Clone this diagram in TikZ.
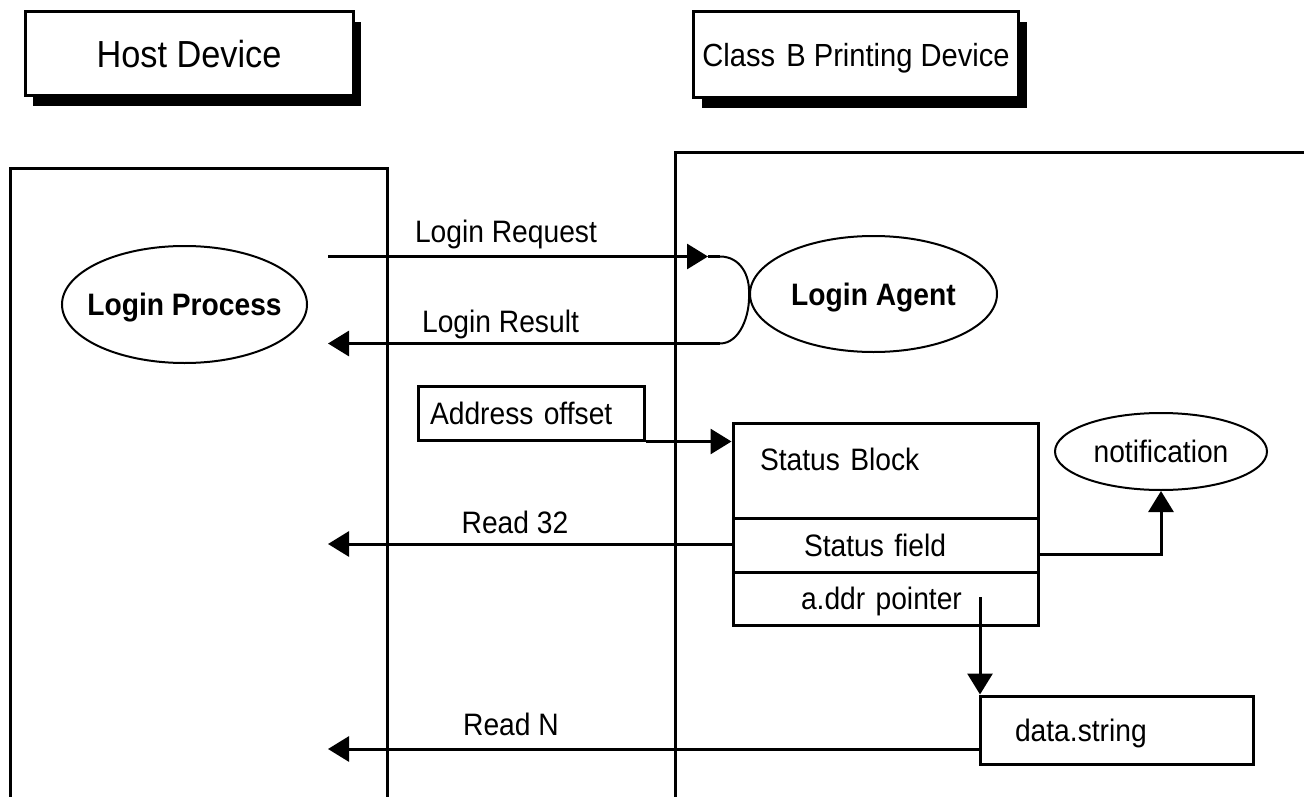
\documentclass[tikz,border=0pt]{standalone}
\usepackage{fontspec}
\setmainfont{Liberation Sans}[FakeStretch=0.91]
\usetikzlibrary{arrows.meta,shadows,calc,shapes.geometric}
\begin{document}
\begin{tikzpicture}[x=1pt,y=-1pt,
  thickline/.style={line width=3pt},
  arr/.style={line width=3pt,-{Triangle[length=21pt,width=25pt]}},
  lbl/.style={font=\fontsize{31}{36}\selectfont, inner sep=0pt, anchor=base},
  titlebox/.style={draw, line width=3pt, fill=white,
     drop shadow={shadow xshift=8pt,shadow yshift=-10pt,fill=black,opacity=1},
     inner sep=0pt, text depth=0pt},
  blk/.style={draw, line width=3pt, inner sep=0pt, font=\fontsize{31}{36}\selectfont,
     text height=22pt, text depth=0pt, align=left},
  oval/.style={draw, ellipse, line width=2pt, inner sep=0pt,
     font=\bfseries\fontsize{31}{36}\selectfont, text height=22pt, text depth=0pt},
]
\useasboundingbox (0,0) rectangle (1304,797);

% columns
\coordinate (hcBL) at (10.5,800);
\coordinate (hcTL) at (10.5,169);
\coordinate (hcTR) at (387.5,169);
\coordinate (hcBR) at (387.5,800);
\draw[thickline] (hcBL) -- (hcTL) -- (hcTR) -- (hcBR);
\coordinate (pcBL) at (675,800);
\coordinate (pcTL) at (675,152.5);
\coordinate (pcTR) at (1310,152.5);
\draw[thickline] (pcBL) -- (pcTL) -- (pcTR);

% title boxes
\node[titlebox, minimum width=328pt, minimum height=84pt,
      font=\fontsize{37.7}{44}\selectfont, text height=27pt] (host) at (189,54) {Host Device};
\node[titlebox, minimum width=325pt, minimum height=86pt,
      font=\fontsize{32}{38}\selectfont, text height=23pt] (cbpd) at (856,55) {Class\hspace{0.35em}B Printing Device};

% ellipses
\node[oval, minimum width=245pt, minimum height=117pt, inner xsep=-20pt] (lp) at (184.5,304.5) {Login Process};
\node[oval, minimum width=247pt, minimum height=116pt, inner xsep=-10pt] (la) at (873.5,294) {Login Agent};
\node[oval, minimum width=212pt, minimum height=77pt, font=\fontsize{31}{36}\selectfont] (nt) at (1161,451.5) {notification};

% boxes
\node[blk, minimum width=226pt, minimum height=54pt, inner xsep=12pt, text width=202pt] (ao) at (531,413) {Address offset};
\node[blk, minimum width=305pt, minimum height=95pt, inner xsep=27pt, text width=251pt, text depth=23pt] (sb) at (885.5,470.5) {Status Block};
\node[blk, minimum width=305pt, minimum height=54pt, inner xsep=71pt, text width=163pt] (sf) at (885.5,545) {Status field};
\node[blk, minimum width=305pt, minimum height=53pt, inner xsep=68pt, text width=169pt] (ap) at (885.5,598.5) {a.ddr pointer};
\node[blk, minimum width=273pt, minimum height=68pt, inner xsep=35pt, text width=203pt] (ds) at (1116.5,730) {data.string};

% login request / result
\coordinate (reqS) at (328,256.5);
\coordinate (reqT) at (708,256.5);
\coordinate (loopT) at (720,256.5);
\coordinate (loopB) at (720,343.5);
\coordinate (resT) at (328,343.5);
\draw[arr] (reqS) -- (reqT);
\draw[line width=3pt] (reqT) -- (loopT);
\draw[line width=2pt] (loopT) .. controls (740,256.5) and (750,275) .. (la.west)
      .. controls (750,315) and (740,343.5) .. (loopB);
\draw[arr] (loopB) -- (resT);

% address offset
\draw[arr] (ao.south east) -- (ao.south east -| sb.west);

% read 32
\coordinate (r32T) at (328,544);
\draw[arr] (sf.west |- r32T) -- (r32T);

% status field -> notification
\draw[arr] ([yshift=-9pt]sf.east) -| (nt.south);

% addr pointer -> data string
\coordinate (apS) at (980,597);
\draw[arr] (apS) -- (apS |- ds.north);

% read N
\coordinate (rnT) at (328,749);
\draw[arr] (ds.west |- rnT) -- (rnT);

% labels
\node[lbl] (lreq) at (506,242) {Login Request};
\node[lbl] (lres) at (500.5,332) {Login Result};
\node[lbl] (l32) at (515,533) {Read 32};
\node[lbl] (lrn) at (511,735) {Read N};
\end{tikzpicture}
\end{document}
